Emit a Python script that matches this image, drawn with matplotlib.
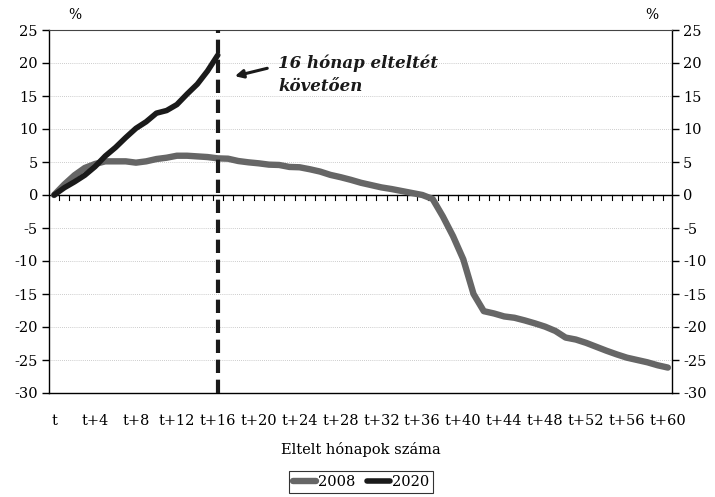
import matplotlib
matplotlib.use("Agg")
import matplotlib.pyplot as plt
import numpy as np

months = list(range(61))
tick_labels = ["t" if m == 0 else f"t+{m}" for m in range(0, 61, 4)]

s2008 = [0.0, 1.6, 3.0, 4.1, 4.7, 5.1, 5.1, 5.1, 4.9, 5.1,
         5.45, 5.65, 5.95, 5.95, 5.85, 5.75, 5.55, 5.5, 5.15, 4.95,
         4.8, 4.6, 4.55, 4.25, 4.2, 3.9, 3.55, 3.05, 2.7, 2.3,
         1.85, 1.5, 1.15, 0.9, 0.6, 0.3, 0.0, -0.6, -3.25, -6.25,
         -9.75, -15.0, -17.6, -17.95, -18.4, -18.6, -19.0, -19.45, -19.95, -20.6,
         -21.6, -21.9, -22.4, -23.0, -23.6, -24.15, -24.65, -25.0, -25.35, -25.8,
         -26.15]
s2020 = [0.0, 1.1, 2.0, 3.0, 4.3, 5.9, 7.2, 8.7, 10.1, 11.1,
         12.4, 12.8, 13.7, 15.3, 16.8, 18.8, 21.2]
event_month = 16

serif = "DejaVu Serif"
plt.rcParams['font.family'] = serif
plt.rcParams['axes.unicode_minus'] = False

fig = plt.figure(figsize=(7.15, 4.97), dpi=100)
ax = fig.add_axes([49/715, 1-393/497, (672-49)/715, (393-30)/497])

ax.set_xlim(-0.5, 60.4)
ax.set_ylim(-30, 25)

# grid
for yv in range(-25, 25, 5):
    if yv != 0:
        ax.axhline(yv, color="#bbbbbb", lw=0.6, ls=(0, (1, 1.5)), zorder=0)

ax.plot(months, s2008, color="#666666", lw=4.6, solid_capstyle="round", solid_joinstyle="round", label="2008", zorder=3)
ax.plot(months[:len(s2020)], s2020, color="#1a1a1a", lw=4.0, solid_capstyle="round", solid_joinstyle="round", label="2020", zorder=4)

ax.axvline(event_month, color="#1a1a1a", lw=3.0, ls=(0, (3.2, 1.6)), zorder=5)

# zero axis line with category tick marks
ax.axhline(0, color="black", lw=1.0, zorder=2)
for b in np.arange(0.5, 60.4, 1.0):
    ax.plot([b, b], [0, -0.75], color="black", lw=0.8, zorder=2, clip_on=False)

for side in ["left", "right", "bottom"]:
    ax.spines[side].set_linewidth(1.0)
ax.spines["top"].set_linewidth(0.8)
ax.spines["top"].set_color("#444444")

ax.set_yticks(range(-30, 26, 5))
ax.tick_params(axis="y", which="both", direction="out", length=5, width=1.0,
               labelsize=10.5, left=True, right=True, labelleft=True, labelright=True, pad=3)
ax.set_xticks(range(0, 61, 4))
ax.set_xticklabels(tick_labels)
ax.tick_params(axis="x", length=0, labelsize=10.5, pad=15)

ax.text(2.0, 27.3, "%", ha="center", va="center", fontsize=10)
ax.text(58.4, 27.3, "%", ha="center", va="center", fontsize=10)

ax.set_xlabel("Eltelt hónapok száma", fontsize=10.5, labelpad=10)

ax.annotate("", xy=(17.4, 17.9), xytext=(21.1, 19.3),
            arrowprops=dict(arrowstyle="-|>", color="#1a1a1a", lw=2.2, mutation_scale=12))
ax.text(21.9, 20.0, "16 hónap elteltét", fontsize=12, fontweight="bold", fontstyle="italic",
        ha="left", va="center", color="#1a1a1a")
ax.text(21.9, 16.4, "követően", fontsize=12, fontweight="bold", fontstyle="italic",
        ha="left", va="center", color="#1a1a1a")

leg = fig.legend(loc="center", bbox_to_anchor=(361/715, 1-482/497), ncol=2, frameon=True,
                 fancybox=False, edgecolor="black", fontsize=10.5, handlelength=1.6,
                 handletextpad=0.1, columnspacing=0.8, borderpad=0.3)
leg.get_frame().set_linewidth(0.8)

fig.savefig("out.png", dpi=100)
